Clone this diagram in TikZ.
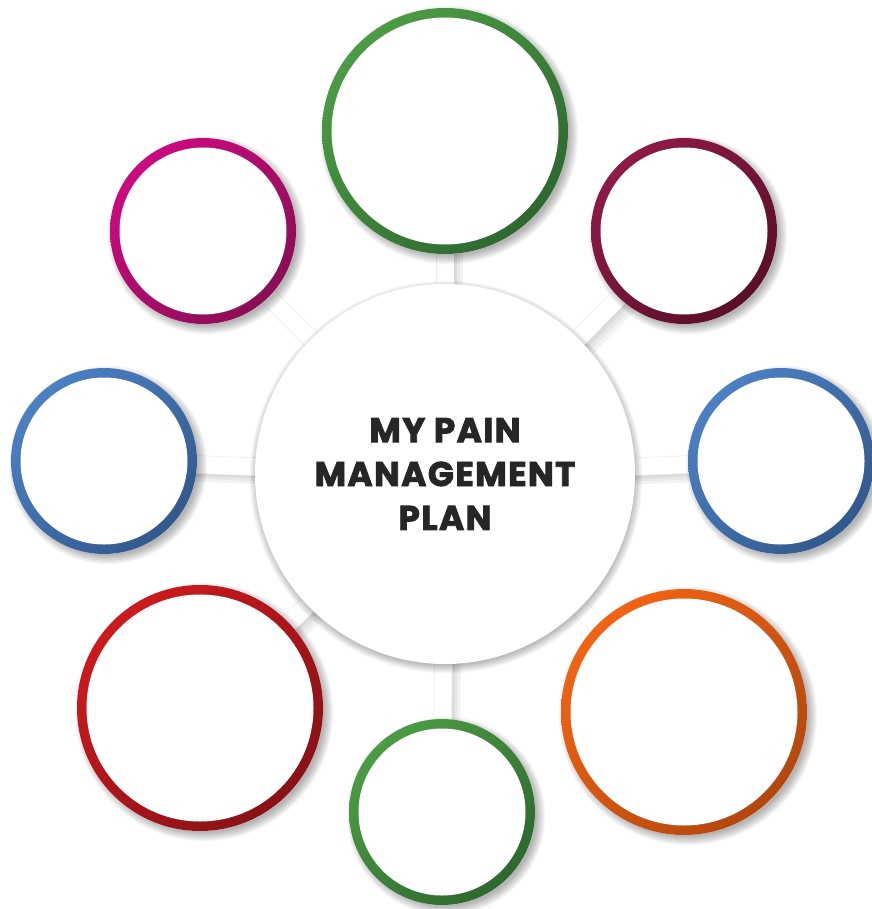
\documentclass[tikz,border=0pt]{standalone}
\usepackage{fontspec}
\newfontfamily\hubfont{Poppins}[FakeBold=2.4, LetterSpace=4]
\usetikzlibrary{backgrounds,calc}

% ring colours: light (top left) and dark (bottom right)
\definecolor{grnL}{HTML}{4C9C44}\definecolor{grnD}{HTML}{2E682F}
\definecolor{magL}{HTML}{CC0A80}\definecolor{magD}{HTML}{8A0E55}
\definecolor{marL}{HTML}{8E1A48}\definecolor{marD}{HTML}{5A0E29}
\definecolor{bluL}{HTML}{4C80C4}\definecolor{bluD}{HTML}{32598C}
\definecolor{redL}{HTML}{CC1A1E}\definecolor{redD}{HTML}{881215}
\definecolor{orgL}{HTML}{F26414}\definecolor{orgD}{HTML}{B3470F}
\definecolor{ink}{HTML}{262626}

\begin{document}
\begin{tikzpicture}[
    x=0.2mm, y=-0.2mm,
    ring/.style={circle, inner sep=0pt, fill=white,
      path picture={
        \shade[top color=#1L, bottom color=#1D, shading angle=45]
          (path picture bounding box.south west) rectangle (path picture bounding box.north east);
        \fill[white] let \p1=(path picture bounding box.east), \p2=(path picture bounding box.center)
          in (\p2) circle[radius=\x1-\x2-1.9mm];
      }},
    big/.style={minimum size=49.2mm},
    small/.style={minimum size=37.2mm},
    hub/.style={circle, fill=white, inner sep=0pt, minimum size=76mm, align=center,
      text=ink, font=\hubfont\bfseries\fontsize{19.5}{25}\selectfont},
    bar/.style={white, line width=3.4mm,
      preaction={draw=black!5, line width=3.6mm, transform canvas={shift={(1.7mm,-1.7mm)}}},
      preaction={draw=black!9, line width=3.4mm, transform canvas={shift={(1.2mm,-1.2mm)}}},
      preaction={draw=black!13, line width=3.4mm, transform canvas={shift={(0.7mm,-0.7mm)}}},
      preaction={draw=black!16, line width=3.4mm, transform canvas={shift={(0.3mm,-0.3mm)}}},
      preaction={draw=black!7, line width=3.7mm}},
    haze/.style={black, opacity=0.035},
  ]
  \useasboundingbox (0,0) rectangle (872,909);

  \node[hub] (hub) at (445,474) {MY PAIN\\MANAGEMENT\\PLAN};

  \node[ring=grn, big]   (top) at (445,131) {};
  \node[ring=mag, small] (tl)  at (203,231) {};
  \node[ring=mar, small] (tr)  at (684,231) {};
  \node[ring=blu, small] (lft) at (104,461) {};
  \node[ring=blu, small] (rgt) at (781,461) {};
  \node[ring=red, big]   (bl)  at (200,708) {};
  \node[ring=org, big]   (br)  at (684,712) {};
  \node[ring=grn, small] (bot) at (442,812) {};

  \begin{scope}[on background layer]
    \fill[white] (0,0) rectangle (872,909);
    % spokes
    \foreach \c in {top,tl,tr,lft,rgt,bl,br,bot}
      \draw[bar] (hub.center) -- (\c.center);
    % soft shadows, stacked discs
    \foreach \c/\dx/\dy in {hub/1/3,top/4/4,tl/4/4,tr/4/4,lft/4/4,rgt/4/4,bl/4/4,br/4/4,bot/4/4}
      \foreach \k in {0,...,8}
        \fill[haze] let \p1=($(\c.east)-(\c.center)$) in
          ($(\c.center)+(\dx,\dy)$) circle[radius=\x1+\k*0.22mm-0.6mm];
  \end{scope}
\end{tikzpicture}
\end{document}
